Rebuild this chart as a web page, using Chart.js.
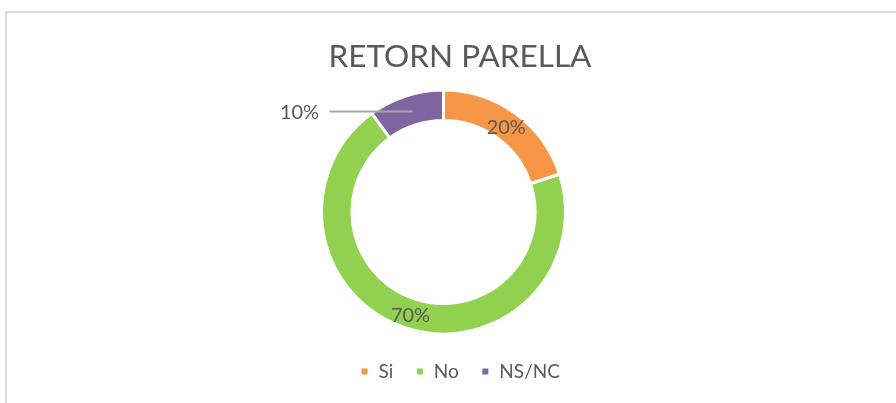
<!DOCTYPE html>
<html>
<head>
<meta charset="utf-8">
<script src="https://cdn.jsdelivr.net/npm/chart.js@4/dist/chart.umd.min.js"></script>
<style>
  html, body { margin: 0; padding: 0; background: #fff; overflow: hidden; }
  #wrap { position: relative; width: 896px; height: 403px; }
  #frame { position: absolute; left: 5px; top: 11px; width: 1000px; height: 600px; border: 2px solid #d9d9d9; box-sizing: border-box; }
  #myChart { position: absolute; left: 0; top: 0; }
</style>
</head>
<body>
<div id="wrap">
  <div id="frame"></div>
  <canvas id="myChart" width="896" height="403"></canvas>
</div>
<script>
let labels = ["Si", "No", "NS/NC"];
let values = [20, 70, 10];
let colors = ["#F79646", "#92D050", "#8064A2"];
let chartTitle = "RETORN PARELLA";

const ctx = document.getElementById('myChart');
const textColor = "#595959";
const fontFam = 'Lato, "Open Sans", sans-serif';

// percent labels on the ring, the small slice gets a callout line
const pctLabels = {
  id: 'pctLabels',
  afterDatasetsDraw(chart) {
    const c = chart.ctx;
    const meta = chart.getDatasetMeta(0);
    const total = values.reduce((a, b) => a + b, 0);
    c.save();
    c.font = '20px ' + fontFam;
    c.fillStyle = textColor;
    c.textAlign = 'center';
    c.textBaseline = 'middle';
    meta.data.forEach((arc, i) => {
      const p = arc.tooltipPosition();
      const txt = Math.round(values[i] / total * 100) + '%';
      if (values[i] / total < 0.15) {
        c.strokeStyle = '#a6a6a6';
        c.lineWidth = 2;
        c.beginPath();
        c.moveTo(p.x - 81, p.y + 1);
        c.lineTo(p.x + 2, p.y + 1);
        c.stroke();
        c.fillText(txt, p.x - 111, p.y + 2);
      } else {
        c.fillText(txt, p.x, p.y + 2);
      }
    });
    c.restore();
  }
};

new Chart(ctx, {
  type: 'doughnut',
  data: {
    labels: labels,
    datasets: [{
      data: values,
      backgroundColor: colors,
      borderColor: '#ffffff',
      borderWidth: 3,
      hoverOffset: 0
    }]
  },
  options: {
    responsive: false,
    animation: false,
    radius: 122,
    cutout: '75%',
    layout: { padding: { top: 0, bottom: 12, left: 24, right: 0 } },
    plugins: {
      title: {
        display: true,
        text: chartTitle,
        color: textColor,
        font: { family: fontFam, size: 31.5, weight: 'normal' },
        padding: { top: 38.1, bottom: 8.1 }
      },
      // empty spacer on the right so the ring sits a bit left of the title
      subtitle: {
        display: true,
        text: ' ',
        position: 'right',
        font: { size: 10 },
        padding: { top: 0, bottom: 21 }
      },
      legend: {
        position: 'bottom',
        labels: {
          color: textColor,
          font: { family: fontFam, size: 19 },
          boxWidth: 9,
          boxHeight: 9,
          padding: 22
        }
      },
      tooltip: { enabled: false }
    }
  },
  plugins: [pctLabels]
});
</script>
</body>
</html>
